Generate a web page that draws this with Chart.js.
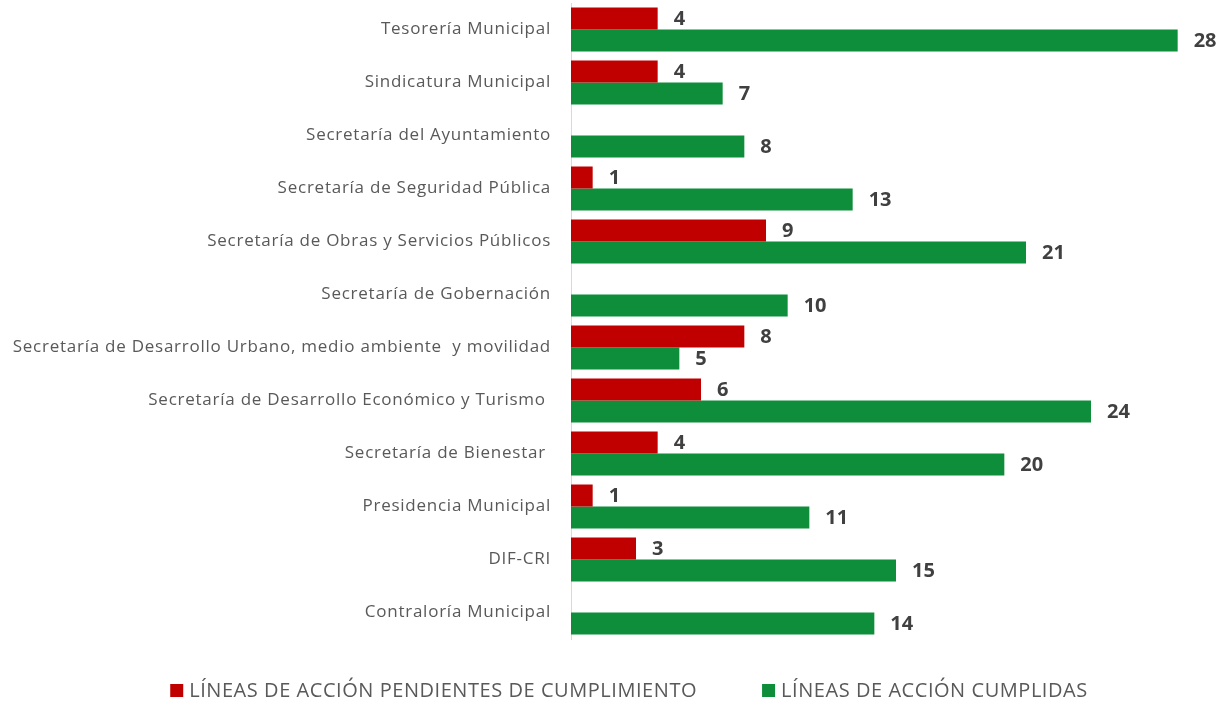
<!DOCTYPE html>
<html lang="es">
<head>
<meta charset="utf-8">
<title>Líneas de acción por dependencia</title>
<script src="https://cdn.jsdelivr.net/npm/chart.js@4.4.1/dist/chart.umd.min.js"></script>
<style>
  html, body { margin: 0; padding: 0; background: #fff; }
  #caja { width: 1230px; height: 702px; }
</style>
</head>
<body>
<div id="caja"><canvas id="grafico"></canvas></div>
<script>
const dependencias = [
  'Tesorería Municipal',
  'Sindicatura Municipal',
  'Secretaría del Ayuntamiento',
  'Secretaría de Seguridad Pública',
  'Secretaría de Obras y Servicios Públicos',
  'Secretaría de Gobernación',
  'Secretaría de Desarrollo Urbano, medio ambiente  y movilidad',
  'Secretaría de Desarrollo Económico y Turismo ',
  'Secretaría de Bienestar ',
  'Presidencia Municipal',
  'DIF-CRI',
  'Contraloría Municipal'
];
const pendientes = [4, 4, 0, 1, 9, 0, 8, 6, 4, 1, 3, 0];
const cumplidas = [28, 7, 8, 13, 21, 10, 5, 24, 20, 11, 15, 14];

const fuente = "'Open Sans', 'Noto Sans', sans-serif";

// un poco de espaciado entre letras para los nombres del eje
const espaciado = {
  id: 'espaciado',
  beforeInit(chart) { chart.ctx.letterSpacing = '0.75px'; },
  beforeDraw(chart) { chart.ctx.letterSpacing = '0.75px'; }
};

// escribe el valor a la derecha de cada barra (los ceros no se muestran)
const etiquetasValor = {
  id: 'etiquetasValor',
  afterDatasetsDraw(chart) {
    const ctx = chart.ctx;
    ctx.save();
    ctx.letterSpacing = '0px';
    ctx.font = "bold 20px " + fuente;
    ctx.fillStyle = '#404040';
    ctx.textAlign = 'left';
    ctx.textBaseline = 'middle';
    chart.data.datasets.forEach((ds, i) => {
      chart.getDatasetMeta(i).data.forEach((barra, j) => {
        const v = ds.data[j];
        if (!v) return;
        ctx.fillText(String(v), barra.x + 16, barra.y + 1);
      });
    });
    ctx.restore();
  }
};

// leyenda inferior centrada, con cuadros de color
const leyenda = {
  id: 'leyenda',
  afterDraw(chart) {
    const ctx = chart.ctx;
    const caja = 13, sep = 6, entre = 65, y = 690;
    ctx.save();
    ctx.font = "20px " + fuente;
    ctx.letterSpacing = '0.55px';
    ctx.textBaseline = 'middle';
    ctx.textAlign = 'left';
    const items = chart.data.datasets.map(ds => ({
      texto: ds.label, color: ds.backgroundColor, ancho: ctx.measureText(ds.label).width
    }));
    let total = 0;
    items.forEach((it, i) => { total += caja + sep + it.ancho + (i ? entre : 0); });
    let x = (chart.width - total) / 2 + 14;
    items.forEach(it => {
      ctx.fillStyle = it.color;
      ctx.fillRect(x, y - 6, caja, caja);
      ctx.fillStyle = '#595959';
      ctx.fillText(it.texto, x + caja + sep, y + 1);
      x += caja + sep + it.ancho + entre;
    });
    ctx.restore();
  }
};

new Chart(document.getElementById('grafico'), {
  type: 'bar',
  data: {
    labels: dependencias,
    datasets: [
      { label: 'LÍNEAS DE ACCIÓN PENDIENTES DE CUMPLIMIENTO', data: pendientes, backgroundColor: '#C00000' },
      { label: 'LÍNEAS DE ACCIÓN CUMPLIDAS', data: cumplidas, backgroundColor: '#0E8E3A' }
    ]
  },
  options: {
    indexAxis: 'y',
    responsive: true,
    maintainAspectRatio: false,
    animation: false,
    categoryPercentage: 0.83,
    barPercentage: 1,
    layout: { padding: { top: 3, right: 9, bottom: 63, left: 0 } },
    scales: {
      x: { display: false, min: 0, max: 30 },
      y: {
        afterFit(scale) {
          scale.width = 571;
          scale.paddingTop = 0;
          scale.paddingBottom = 0;
        },
        grid: { display: false },
        border: { display: true, color: '#D9D9D9', width: 1 },
        ticks: { color: '#595959', padding: 12, font: { family: fuente, size: 17 } }
      }
    },
    plugins: {
      legend: { display: false },
      tooltip: { enabled: false }
    }
  },
  plugins: [espaciado, etiquetasValor, leyenda]
});
</script>
</body>
</html>
